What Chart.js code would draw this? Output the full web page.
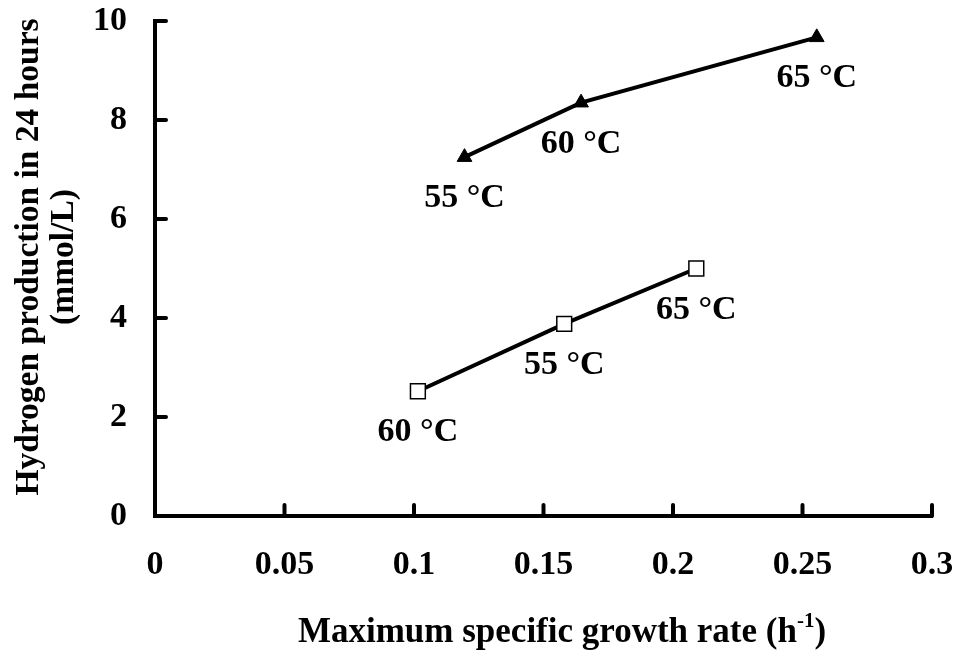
<!DOCTYPE html>
<html>
<head>
<meta charset="utf-8">
<script src="https://cdn.jsdelivr.net/npm/chart.js@4.4.1/dist/chart.umd.min.js"></script>
<style>
  html, body { margin: 0; padding: 0; background: #ffffff; }
  #wrap { width: 958px; height: 652px; }
</style>
</head>
<body>
<div id="wrap"><canvas id="c" width="958" height="652"></canvas></div>
<script>
// ---- data ----
const triX = [0.1195, 0.1645, 0.2555];
const triY = [7.25, 8.35, 9.67];
const triLabels = ['55 °C', '60 °C', '65 °C'];

const sqX = [0.1015, 0.158, 0.209];
const sqY = [2.52, 3.88, 5.0];
const sqLabels = ['60 °C', '55 °C', '65 °C'];

const xTickLabels = ['0', '0.05', '0.1', '0.15', '0.2', '0.25', '0.3'];
const yTickLabels = ['0', '2', '4', '6', '8', '10'];

const xTitleMain = 'Maximum specific growth rate (h';
const xTitleSup = '-1';
const xTitleEnd = ')';
const yTitleLines = ['Hydrogen production in 24 hours', '(mmol/L)'];

const FONT_FAMILY = '"Liberation Serif", "Times New Roman", serif';
const FONT = 'bold 34px ' + FONT_FAMILY;

const triData = triX.map((x, i) => ({ x: x, y: triY[i] }));
const sqData = sqX.map((x, i) => ({ x: x, y: sqY[i] }));

const pointLabelsPlugin = {
  id: 'pointLabels',
  afterDatasetsDraw(chart) {
    const ctx = chart.ctx;
    ctx.save();
    ctx.font = FONT;
    ctx.fillStyle = '#000';
    ctx.textAlign = 'center';
    ctx.textBaseline = 'alphabetic';
    chart.data.datasets.forEach((ds, di) => {
      const meta = chart.getDatasetMeta(di);
      meta.data.forEach((pt, i) => {
        ctx.fillText(ds.pointText[i], pt.x, pt.y + 50);
      });
    });
    ctx.restore();
  }
};

const axisDecorPlugin = {
  id: 'axisDecor',
  afterDraw(chart) {
    const ctx = chart.ctx;
    const xs = chart.scales.x, ys = chart.scales.y;
    const area = chart.chartArea;
    ctx.save();
    ctx.strokeStyle = '#000';
    ctx.lineWidth = 4;
    ctx.lineCap = 'round';
    // inward tick marks
    xs.ticks.forEach((t, i) => {
      if (i === 0) return;
      const px = xs.getPixelForTick(i);
      ctx.beginPath();
      ctx.moveTo(px, area.bottom);
      ctx.lineTo(px, area.bottom - 11);
      ctx.stroke();
    });
    ys.ticks.forEach((t, i) => {
      if (i === 0) return;
      const py = ys.getPixelForTick(i);
      ctx.beginPath();
      ctx.moveTo(area.left, py);
      ctx.lineTo(area.left + 11, py);
      ctx.stroke();
    });
    // x title with superscript
    ctx.fillStyle = '#000';
    ctx.textBaseline = 'alphabetic';
    ctx.textAlign = 'left';
    const mainFont = 'bold 35px ' + FONT_FAMILY;
    ctx.font = mainFont;
    const wMain = ctx.measureText(xTitleMain).width;
    const wEnd = ctx.measureText(xTitleEnd).width;
    const supFont = 'bold 21px ' + FONT_FAMILY;
    ctx.font = supFont;
    const wSup = ctx.measureText(xTitleSup).width;
    const total = wMain + wSup + wEnd;
    const cx = 562;
    const x0 = cx - total / 2;
    const base = 642;
    ctx.font = mainFont;
    ctx.fillText(xTitleMain, x0, base);
    ctx.font = supFont;
    ctx.fillText(xTitleSup, x0 + wMain, base - 15);
    ctx.font = mainFont;
    ctx.fillText(xTitleEnd, x0 + wMain + wSup, base);
    // y title (rotated, two lines)
    ctx.save();
    ctx.translate(29, 257);
    ctx.rotate(-Math.PI / 2);
    ctx.textAlign = 'center';
    ctx.textBaseline = 'middle';
    ctx.font = 'bold 33.5px ' + FONT_FAMILY;
    ctx.fillText(yTitleLines[0], 0, 0);
    ctx.fillText(yTitleLines[1], 0, 35);
    ctx.restore();
    ctx.restore();
  }
};

new Chart(document.getElementById('c'), {
  type: 'scatter',
  data: {
    datasets: [
      {
        label: 'triangles',
        data: triData,
        pointText: triLabels,
        showLine: true,
        borderColor: '#000',
        borderWidth: 4,
        pointStyle: 'triangle',
        pointRadius: 8.5,
        pointBackgroundColor: '#000',
        pointBorderColor: '#000',
        pointBorderWidth: 1
      },
      {
        label: 'squares',
        data: sqData,
        pointText: sqLabels,
        showLine: true,
        borderColor: '#000',
        borderWidth: 4,
        pointStyle: 'rect',
        pointRadius: 10.5,
        pointBackgroundColor: '#fff',
        pointBorderColor: '#000',
        pointBorderWidth: 1.5
      }
    ]
  },
  options: {
    responsive: false,
    animation: false,
    devicePixelRatio: 1,
    layout: { padding: { left: 0, top: 21, right: 26, bottom: 0 } },
    plugins: {
      legend: { display: false },
      tooltip: { enabled: false }
    },
    scales: {
      x: {
        type: 'linear',
        min: 0,
        max: 0.3,
        afterFit(scale) {
          scale.height = 136;
          scale.paddingLeft = 0; scale.paddingRight = 0;
          scale.paddingTop = 0; scale.paddingBottom = 0;
        },
        ticks: {
          stepSize: 0.05,
          padding: 29,
          color: '#000',
          font: { family: FONT_FAMILY, size: 34, weight: 'bold' },
          maxRotation: 0,
          autoSkip: false,
          callback: (v, i) => xTickLabels[i]
        },
        grid: { display: false, drawTicks: false },
        border: { display: true, color: '#000', width: 4 },
        title: { display: false }
      },
      y: {
        type: 'linear',
        min: 0,
        max: 10,
        afterFit(scale) {
          scale.width = 155;
          scale.paddingLeft = 0; scale.paddingRight = 0;
          scale.paddingTop = 0; scale.paddingBottom = 0;
        },
        ticks: {
          stepSize: 2,
          padding: 28,
          color: '#000',
          font: { family: FONT_FAMILY, size: 34, weight: 'bold' },
          callback: (v, i) => yTickLabels[i]
        },
        grid: { display: false, drawTicks: false },
        border: { display: true, color: '#000', width: 4 },
        title: { display: false }
      }
    }
  },
  plugins: [pointLabelsPlugin, axisDecorPlugin]
});
</script>
</body>
</html>
